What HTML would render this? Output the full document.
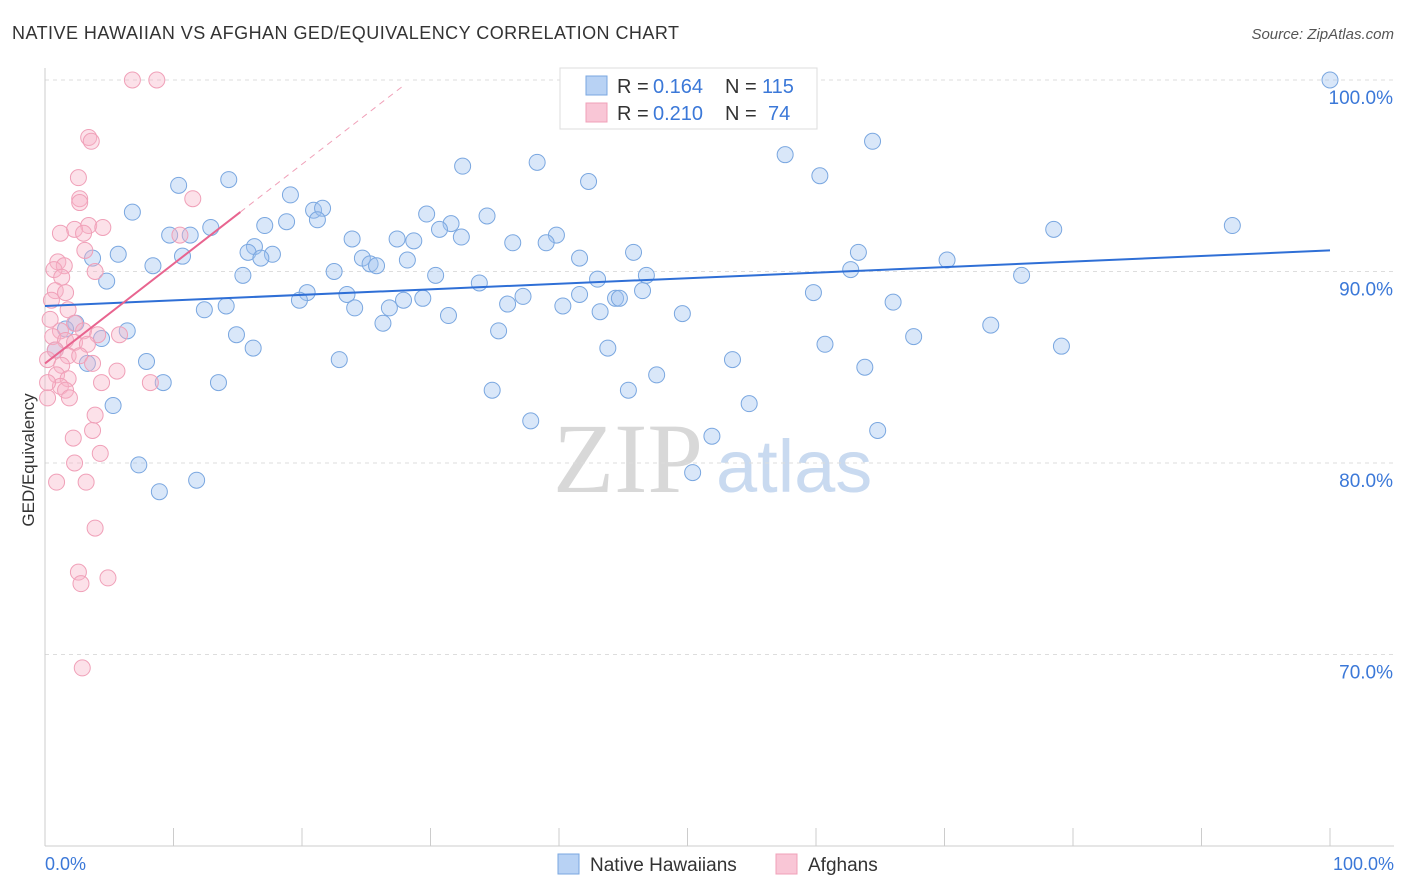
<!DOCTYPE html>
<html><head><meta charset="utf-8"><style>
body{margin:0;background:#fff;font-family:"Liberation Sans",sans-serif;}
svg{display:block}
</style></head><body>
<svg id="chart" width="1406" height="892" xmlns="http://www.w3.org/2000/svg">
<text x="12" y="39" font-size="18" textLength="667" fill="#333">NATIVE HAWAIIAN VS AFGHAN GED/EQUIVALENCY CORRELATION CHART</text>
<text x="1394" y="39" font-size="15" fill="#555" font-style="italic" text-anchor="end">Source: ZipAtlas.com</text>
<text x="34" y="460" font-size="17" fill="#333" text-anchor="middle" transform="rotate(-90 34 460)">GED/Equivalency</text>
<g>
<text x="553" y="492" font-size="100" font-family="Liberation Serif,serif" fill="#d8d8d8">ZIP</text>
<text x="716" y="492" font-size="74" fill="#c9daf0">atlas</text>
</g>
<g id="grid"></g>
<g id="axes"></g>
<g id="marks"></g>
<g font-size="20">
<rect x="560" y="68" width="257" height="61" fill="#fff" stroke="#ddd"/>
<rect x="586" y="76" width="21" height="19" fill="#b8d2f4" stroke="#7aa7e0"/>
<text x="617" y="93" fill="#333">R =</text><text x="653" y="93" fill="#3b78d8">0.164</text>
<text x="725" y="93" fill="#333">N =</text><text x="762" y="93" fill="#3b78d8">115</text>
<rect x="586" y="103" width="21" height="19" fill="#f9c6d6" stroke="#f0a0b8"/>
<text x="617" y="120" fill="#333">R =</text><text x="653" y="120" fill="#3b78d8">0.210</text>
<text x="725" y="120" fill="#333">N =</text><text x="768" y="120" fill="#3b78d8">74</text>
</g>
<g>
<rect x="558" y="854" width="21" height="20" fill="#b8d2f4" stroke="#7aa7e0"/>
<text x="590" y="871" font-size="19" fill="#333">Native Hawaiians</text>
<rect x="776" y="854" width="21" height="20" fill="#f9c6d6" stroke="#f0a0b8"/>
<text x="808" y="871" font-size="19" fill="#333">Afghans</text>
</g>
</svg>
<script>
const yTicks=[100,90,80,70];
const yTickLabels=["100.0%","90.0%","80.0%","70.0%"];
const xTickLabels=["0.0%","100.0%"];
const blueX=[100,59.3,64.4,57.6,38.3,32.5,60.3,42.3,14.3,10.4,19.1,6.8,20.9,21.6,18.8,21.2,29.7,34.4,17.1,12.9,31.6,30.7,92.4,78.5,9.7,11.3,23.9,27.4,28.7,32.4,36.4,39.8,39.0,16.3,15.8,45.8,63.3,5.7,10.7,17.7,16.8,24.7,28.2,41.6,70.2,3.7,25.3,25.8,8.4,22.5,15.4,30.4,62.7,76.0,43.0,46.8,33.8,4.8,46.5,59.8,20.4,23.5,37.2,41.6,44.4,44.7,29.4,27.9,19.8,66.0,14.1,12.4,24.1,26.8,36.0,40.3,43.2,31.4,49.6,26.3,2.4,73.6,35.3,6.4,1.6,14.9,4.4,67.6,16.2,43.8,60.7,79.1,0.8,7.9,22.9,53.5,3.3,63.8,47.6,9.2,13.5,34.8,45.4,54.8,5.3,37.8,64.8,51.9,7.3,50.4,11.8,8.9];
const blueY=[100,100,96.8,96.1,95.7,95.5,95.0,94.7,94.8,94.5,94.0,93.1,93.2,93.3,92.6,92.7,93.0,92.9,92.4,92.3,92.5,92.2,92.4,92.2,91.9,91.9,91.7,91.7,91.6,91.8,91.5,91.9,91.5,91.3,91.0,91.0,91.0,90.9,90.8,90.9,90.7,90.7,90.6,90.7,90.6,90.7,90.4,90.3,90.3,90.0,89.8,89.8,90.1,89.8,89.6,89.8,89.4,89.5,89.0,88.9,88.9,88.8,88.7,88.8,88.6,88.6,88.6,88.5,88.5,88.4,88.2,88.0,88.1,88.1,88.3,88.2,87.9,87.7,87.8,87.3,87.3,87.2,86.9,86.9,87.0,86.7,86.5,86.6,86.0,86.0,86.2,86.1,85.9,85.3,85.4,85.4,85.2,85.0,84.6,84.2,84.2,83.8,83.8,83.1,83.0,82.2,81.7,81.4,79.9,79.5,79.1,78.5];
const pinkX=[6.8,8.7,3.4,3.6,2.6,2.7,2.7,11.5,3.4,4.5,2.3,3.0,1.2,10.5,3.1,1.0,1.5,0.7,3.9,1.3,0.8,1.6,0.5,1.8,0.4,2.3,1.2,3.0,4.1,5.8,0.6,1.6,2.3,3.3,0.8,1.8,2.7,0.2,1.3,3.7,5.6,0.9,1.8,8.2,4.4,1.2,0.2,1.6,0.2,1.9,3.9,3.7,2.2,4.3,2.3,0.9,3.2,3.9,2.6,4.9,2.8,2.9];
const pinkY=[100,100,97.0,96.8,94.9,93.8,93.6,93.8,92.4,92.3,92.2,92.0,92.0,91.9,91.1,90.5,90.3,90.1,90.0,89.7,89.0,88.9,88.5,88.0,87.5,87.3,86.9,86.9,86.7,86.7,86.6,86.4,86.3,86.2,85.9,85.6,85.6,85.4,85.1,85.2,84.8,84.6,84.4,84.2,84.2,84.0,84.2,83.8,83.4,83.4,82.5,81.7,81.3,80.5,80.0,79.0,79.0,76.6,74.3,74.0,73.7,69.3];
const blueTrend=[88.2,91.1];
const pinkTrend=[85.2,0.52];
const NS="http://www.w3.org/2000/svg";
const X=v=>45+v*12.85, Y=v=>80+(100-v)*19.15;
function mk(tag,attrs,parent){const e=document.createElementNS(NS,tag);for(const k in attrs)e.setAttribute(k,attrs[k]);document.getElementById(parent).appendChild(e);return e;}
yTicks.forEach((t,i)=>{
 const l=mk('line',{x1:45,x2:1394,y1:Y(t),y2:Y(t),stroke:'#ddd','stroke-dasharray':'4 4'},'grid');
 
 
 const tx=mk('text',{x:1393,y:Y(t)+24,'font-size':19,fill:'#3b78d8','text-anchor':'end'},'grid');
 tx.textContent=yTickLabels[i];
 
 
});
const ax=mk('line',{x1:45,x2:45,y1:68,y2:846,stroke:'#ccc'},'axes');


const bx=mk('line',{x1:45,x2:1394,y1:846,y2:846,stroke:'#ccc'},'axes');


for(let i=0;i<=10;i++){const t=mk('line',{x1:X(i*10),x2:X(i*10),y1:828,y2:846,stroke:'#ccc'},'axes');
 
 }
[[0,'start',45],[100,'end',1394]].forEach((d,i)=>{const t=mk('text',{x:d[2],y:870,'font-size':18,fill:'#3b78d8','text-anchor':d[1]},'axes');t.textContent=xTickLabels[i];
 
 });
blueX.forEach((x,i)=>{const c=mk('circle',{cx:X(x),cy:Y(blueY[i]),r:8,fill:'rgba(160,196,240,0.4)',stroke:'#7aa7e0','stroke-width':1},'marks');
 
 });
pinkX.forEach((x,i)=>{const c=mk('circle',{cx:X(x),cy:Y(pinkY[i]),r:8,fill:'rgba(248,180,200,0.4)',stroke:'#f0a0b8','stroke-width':1},'marks');
 
 });
const bl=mk('line',{x1:X(0),y1:Y(blueTrend[0]),x2:X(100),y2:Y(blueTrend[1]),stroke:'#2f6fd6','stroke-width':2},'marks');


const pd=mk('line',{x1:X(15.2),y1:Y(pinkTrend[0]+pinkTrend[1]*15.2),x2:X(28),y2:Y(pinkTrend[0]+pinkTrend[1]*28),stroke:'#f0a0b8','stroke-width':1,'stroke-dasharray':'6 5'},'marks');


const pl=mk('line',{x1:X(0),y1:Y(pinkTrend[0]),x2:X(15.2),y2:Y(pinkTrend[0]+pinkTrend[1]*15.2),stroke:'#e8648f','stroke-width':2},'marks');


</script>
</body></html>
